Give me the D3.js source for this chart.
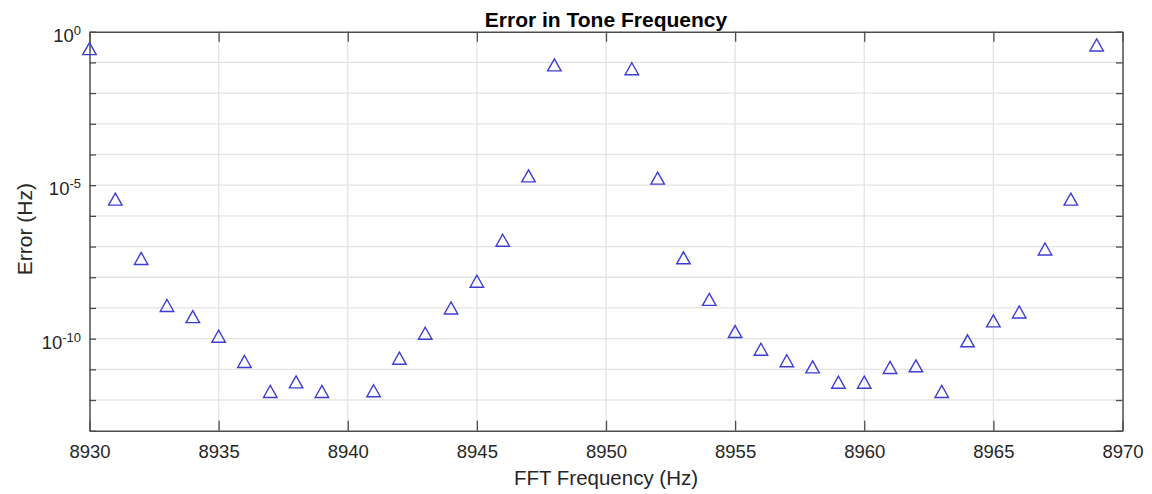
<!DOCTYPE html>
<html>
<head>
<meta charset="utf-8">
<script src="https://cdn.jsdelivr.net/npm/d3@7"></script>
<style>
  html, body { margin: 0; padding: 0; background: #fff; }
  svg { display: block; font-family: "Liberation Sans", Arial, Helvetica, sans-serif; }
</style>
</head>
<body>
<svg id="chart" width="1152" height="494"></svg>
<script>
// FFT bin frequencies (Hz) and the tone-frequency error at each bin (Hz).
// Bins with zero error cannot be shown on a log axis and are skipped.
const freqs = [
  8930, 8931, 8932, 8933, 8934, 8935, 8936, 8937, 8938, 8939,
  8940, 8941, 8942, 8943, 8944, 8945, 8946, 8947, 8948, 8949,
  8950, 8951, 8952, 8953, 8954, 8955, 8956, 8957, 8958, 8959,
  8960, 8961, 8962, 8963, 8964, 8965, 8966, 8967, 8968, 8969
];
const errors = [
  2.8e-1, 3.5e-6, 4.1e-8, 1.2e-9, 5.2e-10, 1.2e-10, 1.8e-11, 1.9e-12, 3.9e-12, 1.9e-12,
  0,      2.0e-12, 2.3e-11, 1.5e-10, 1.0e-9, 7.4e-9, 1.6e-7, 2.0e-5, 8.3e-2, 0,
  0,      6.2e-2, 1.7e-5, 4.3e-8, 1.9e-9, 1.7e-10, 4.5e-11, 1.9e-11, 1.2e-11, 3.8e-12,
  3.8e-12, 1.15e-11, 1.3e-11, 1.9e-12, 8.5e-11, 3.8e-10, 7.4e-10, 8.3e-8, 3.5e-6, 3.7e-1
];
const xTicks = [8930, 8935, 8940, 8945, 8950, 8955, 8960, 8965, 8970];
const yExponents = [0, -1, -2, -3, -4, -5, -6, -7, -8, -9, -10, -11, -12, -13];
const yLabelExponents = [0, -5, -10];

(function draw() {
  const svg = d3.select("#chart");
  const pLeft = 89.5, pRight = 1122.5, pTop = 31.7, pBottom = 430.7;

  const x = d3.scaleLinear().domain([8930, 8970]).range([pLeft, pRight]);
  const y = d3.scaleLog().domain([1e-13, 1]).range([pBottom, pTop]);

  const axisColor = "#4d4d4d";
  const textColor = "#262626";
  const gridColor = "#e3e3e3";

  // grid
  const grid = svg.append("g");
  grid.selectAll("line.gx").data(xTicks.slice(1, -1)).join("line")
    .attr("class", "gx")
    .attr("x1", d => x(d)).attr("x2", d => x(d))
    .attr("y1", pTop).attr("y2", pBottom)
    .attr("stroke", gridColor).attr("stroke-width", 1.3);
  grid.selectAll("line.gy").data(yExponents.slice(1, -1)).join("line")
    .attr("class", "gy")
    .attr("x1", pLeft).attr("x2", pRight)
    .attr("y1", d => y(Math.pow(10, d))).attr("y2", d => y(Math.pow(10, d)))
    .attr("stroke", gridColor).attr("stroke-width", 1.3);

  // axes with inward ticks on all four sides
  const yTickVals = yExponents.map(e => Math.pow(10, e));
  const xBottom = d3.axisBottom(x).tickValues(xTicks).tickSizeInner(-10).tickSizeOuter(0).tickPadding(14).tickFormat(d3.format("d"));
  const xTop = d3.axisTop(x).tickValues(xTicks).tickSizeInner(-10).tickSizeOuter(0).tickFormat("");
  const yLeft = d3.axisLeft(y).tickValues(yTickVals).tickSizeInner(-6.5).tickSizeOuter(0).tickFormat("");
  const yRight = d3.axisRight(y).tickValues(yTickVals).tickSizeInner(-6.5).tickSizeOuter(0).tickFormat("");

  function styleAxis(g) {
    g.select(".domain").attr("stroke", axisColor).attr("stroke-width", 1.5);
    g.selectAll(".tick line").attr("stroke", axisColor).attr("stroke-width", 1.3);
    g.selectAll(".tick text").attr("fill", textColor).attr("font-size", 18.5)
      .attr("font-family", "Liberation Sans, Arial, sans-serif");
  }

  svg.append("g").attr("transform", `translate(0,${pBottom})`).call(xBottom).call(styleAxis);
  svg.append("g").attr("transform", `translate(0,${pTop})`).call(xTop).call(styleAxis);
  svg.append("g").attr("transform", `translate(${pLeft},0)`).call(yLeft).call(styleAxis);
  svg.append("g").attr("transform", `translate(${pRight},0)`).call(yRight).call(styleAxis);

  // y tick labels as 10 with superscript exponent
  const yl = svg.append("g");
  yLabelExponents.forEach(e => {
    const t = yl.append("text")
      .attr("x", pLeft - 8.5)
      .attr("y", y(Math.pow(10, e)) + 10)
      .attr("text-anchor", "end")
      .attr("fill", textColor)
      .attr("font-size", 18.5);
    t.append("tspan").text("10");
    t.append("tspan").attr("dy", -7).attr("font-size", 13).text(e === 0 ? "0" : "-" + Math.abs(e));
  });

  // data markers (upward triangles)
  const pts = freqs.map((f, i) => ({ f, v: errors[i] })).filter(d => d.v > 0);
  const w = 13.5, h = 12;
  const tri = `M0,${-h / 2} L${w / 2},${h / 2} L${-w / 2},${h / 2} Z`;
  svg.append("g").selectAll("path").data(pts).join("path")
    .attr("d", tri)
    .attr("transform", d => `translate(${x(d.f)},${y(d.v)})`)
    .attr("fill", "none")
    .attr("stroke", "#3d3dd6")
    .attr("stroke-width", 1.4);

  // titles
  svg.append("text")
    .attr("x", (pLeft + pRight) / 2).attr("y", 26.5)
    .attr("text-anchor", "middle").attr("font-weight", "bold")
    .attr("font-size", 21).attr("fill", "#000")
    .text("Error in Tone Frequency");

  svg.append("text")
    .attr("x", (pLeft + pRight) / 2).attr("y", 485)
    .attr("text-anchor", "middle").attr("font-size", 20.5).attr("fill", textColor)
    .text("FFT Frequency (Hz)");

  svg.append("text")
    .attr("transform", `translate(32,${(pTop + pBottom) / 2 - 2}) rotate(-90)`)
    .attr("text-anchor", "middle").attr("font-size", 21).attr("fill", textColor)
    .text("Error (Hz)");
})();
</script>
</body>
</html>
